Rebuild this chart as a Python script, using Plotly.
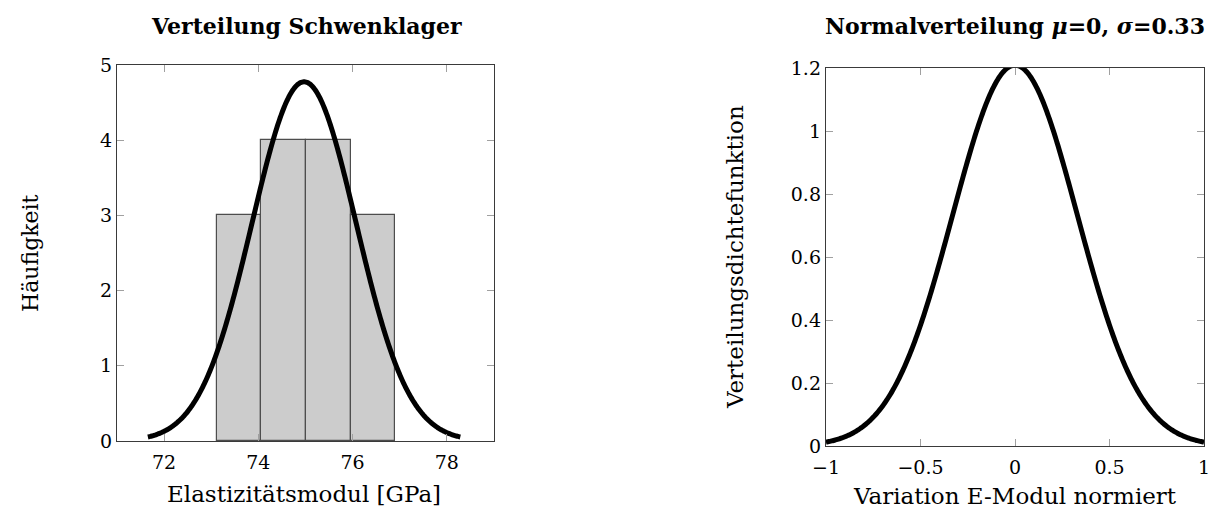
import numpy as np
import plotly.graph_objects as go

# Histogram of measured elastic moduli (GPa)
bin_edges = [73.12, 74.065, 75.01, 75.955, 76.9]
bin_counts = [3, 4, 4, 3]

# Fitted normal distribution for the histogram
fit_mean = 74.97
fit_sigma = 1.105
n_samples = sum(bin_counts)

# Normalised distribution parameters
norm_mu = 0.0
norm_sigma = 0.33

left_xticks = [72, 74, 76, 78]
left_yticks = [0, 1, 2, 3, 4, 5]
right_xticks = [-1, -0.5, 0, 0.5, 1]
right_yticks = [0, 0.2, 0.4, 0.6, 0.8, 1, 1.2]

FONT = "DejaVu Serif"
W, H = 1221, 516


def gauss(x, mu, sigma):
    return np.exp(-0.5 * ((x - mu) / sigma) ** 2) / (sigma * np.sqrt(2 * np.pi))


edges = np.array(bin_edges)
centers = (edges[:-1] + edges[1:]) / 2
widths = np.diff(edges)
bin_w = widths.mean()

xl = np.linspace(fit_mean - 3 * fit_sigma, fit_mean + 3 * fit_sigma, 400)
yl = n_samples * bin_w * gauss(xl, fit_mean, fit_sigma)

xr = np.linspace(-1, 1, 400)
yr = gauss(xr, norm_mu, norm_sigma)

curve_line = dict(color="black", width=5, simplify=False)

fig = go.Figure()
fig.add_trace(go.Bar(
    x=centers, y=bin_counts, width=widths,
    marker=dict(color="#cccccc", line=dict(color="#4d4d4d", width=1.2)),
    xaxis="x", yaxis="y", showlegend=False,
))
fig.add_trace(go.Scatter(
    x=xl, y=yl, mode="lines", line=curve_line,
    xaxis="x", yaxis="y", showlegend=False, cliponaxis=False,
))
fig.add_trace(go.Scatter(
    x=xr, y=yr, mode="lines", line=curve_line,
    xaxis="x2", yaxis="y2", showlegend=False, cliponaxis=False,
))


def px_x(p):
    return p / W


def px_y(p):
    return 1 - p / H


axis_common = dict(
    showline=True, linecolor="#3a3a3a", linewidth=1.4, mirror="ticks",
    ticks="inside", ticklen=7, tickwidth=1, tickcolor="#a0a0a0",
    showgrid=False, zeroline=False, automargin=False,
    tickfont=dict(family=FONT, size=19, color="black"),
)
xaxis_extra = dict(ticklabelstandoff=4)

fig.update_layout(
    width=W, height=H,
    margin=dict(l=0, r=0, t=0, b=0, autoexpand=False),
    paper_bgcolor="white", plot_bgcolor="white",
    bargap=0,
    xaxis=dict(axis_common, **xaxis_extra, domain=[px_x(117), px_x(494)],
               range=[71, 79], tickvals=left_xticks, anchor="y"),
    yaxis=dict(axis_common, domain=[px_y(441), px_y(65)], range=[0, 5],
               tickvals=left_yticks, anchor="x"),
    xaxis2=dict(axis_common, **xaxis_extra, domain=[px_x(826), px_x(1204)],
                range=[-1, 1], tickvals=right_xticks, anchor="y2"),
    yaxis2=dict(axis_common, domain=[px_y(446), px_y(68)], range=[0, 1.2],
                tickvals=right_yticks, anchor="x2"),
)

ann = [
    dict(text="<b>Verteilung Schwenklager</b>", x=px_x(306), y=px_y(26), size=22),
    dict(text="<b>Normalverteilung <i>μ</i>=0, <i>σ</i>=0.33</b>", x=px_x(1015), y=px_y(26), size=22),
    dict(text="Elastizitätsmodul [GPa]", x=px_x(304), y=px_y(494), size=23),
    dict(text="Variation E-Modul normiert", x=px_x(1015), y=px_y(496), size=23),
    dict(text="Häufigkeit", x=px_x(30), y=px_y(253), size=22, angle=-90),
    dict(text="Verteilungsdichtefunktion", x=px_x(735), y=px_y(257), size=23, angle=-90),
]
for a in ann:
    fig.add_annotation(
        text=a["text"], x=a["x"], y=a["y"], xref="paper", yref="paper",
        xanchor="center", yanchor="middle", showarrow=False,
        textangle=a.get("angle", 0),
        font=dict(family=FONT, size=a["size"], color="black"),
    )

fig.write_html("out.html")
